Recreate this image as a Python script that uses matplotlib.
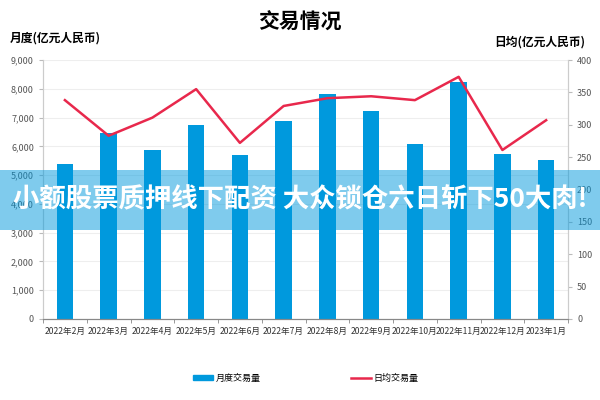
import numpy as np
import matplotlib
matplotlib.use("Agg")
import matplotlib.pyplot as plt
from matplotlib.patches import Rectangle
from matplotlib.lines import Line2D
from matplotlib.ticker import FuncFormatter

plt.rcParams['font.family'] = ['Noto Sans CJK SC', 'DejaVu Sans']

months = ['2022年2月', '2022年3月', '2022年4月', '2022年5月', '2022年6月', '2022年7月',
          '2022年8月', '2022年9月', '2022年10月', '2022年11月', '2022年12月', '2023年1月']
monthly = [5400, 6470, 5880, 6750, 5710, 6890, 7820, 7240, 6080, 8240, 5740, 5530]
daily = [338, 283, 311, 355, 272, 329, 341, 344, 338, 374, 261, 307]

bar_color = '#0099DD'
line_color = '#E8284C'

fig = plt.figure(figsize=(6, 4), dpi=100)
ax = fig.add_axes([0.0717, 0.2025, 0.875, 0.6475])
ax2 = ax.twinx()

X = np.arange(len(months))
ax.bar(X, monthly, width=0.38, color=bar_color, zorder=2)
ax2.plot(X, daily, color=line_color, lw=1.8, zorder=3)

ax.set_xlim(-0.5, len(months) - 0.5)
ax.set_ylim(0, 9000)
ax.set_yticks(np.arange(0, 9001, 1000))
ax.yaxis.set_major_formatter(FuncFormatter(lambda v, p: f'{int(v):,}'))
ax2.set_ylim(0, 400)
ax2.set_yticks(np.arange(0, 401, 50))

ax.grid(axis='y', color='#EEEEEE', lw=0.8, zorder=0)
ax.set_xticks(X)
ax.set_xticklabels(months, fontsize=6.2, color='#333333')
ax.set_xticks(np.arange(-0.5, len(months), 1), minor=True)
ax.tick_params(axis='x', which='major', length=0, pad=6)
ax.tick_params(axis='x', which='minor', length=3, color='#888888')
ax.tick_params(axis='y', labelsize=6.5, labelcolor='#555555', length=3, color='#BBBBBB')
ax2.tick_params(axis='y', labelsize=6.5, labelcolor='#555555', length=3, color='#BBBBBB')

for a in (ax, ax2):
    a.spines['top'].set_visible(False)
    a.spines['left'].set_color('#CCCCCC')
    a.spines['right'].set_color('#CCCCCC')
    a.spines['bottom'].set_color('#888888')

fig.text(0.5, 0.945, '交易情况', ha='center', va='center', fontsize=15, fontweight='bold')
fig.text(0.017, 0.905, '月度(亿元人民币)', ha='left', va='center', fontsize=8.5, fontweight='bold')
fig.text(0.975, 0.895, '日均(亿元人民币)', ha='right', va='center', fontsize=8.5, fontweight='bold')

handles = [Rectangle((0, 0), 1, 1, color=bar_color), Line2D([], [], color=line_color, lw=1.8)]
fig.legend(handles, ['月度交易量', '日均交易量'], loc='center', bbox_to_anchor=(0.51, 0.055),
           ncol=2, frameon=False, fontsize=6.5, columnspacing=10, handlelength=2.2,
           handleheight=0.6, handletextpad=0.3)

# banner overlay
fig.patches.append(Rectangle((0, 0.425), 1, 0.15, transform=fig.transFigure,
                             facecolor=bar_color, edgecolor='none', lw=0, alpha=0.5, zorder=5))
fig.text(0.5, 0.5, '小额股票质押线下配资 大众锁仓六日斩下50大肉!', ha='center', va='center',
         fontsize=19, fontweight='bold', color='white', zorder=6)

fig.savefig('out.png', dpi=100)
